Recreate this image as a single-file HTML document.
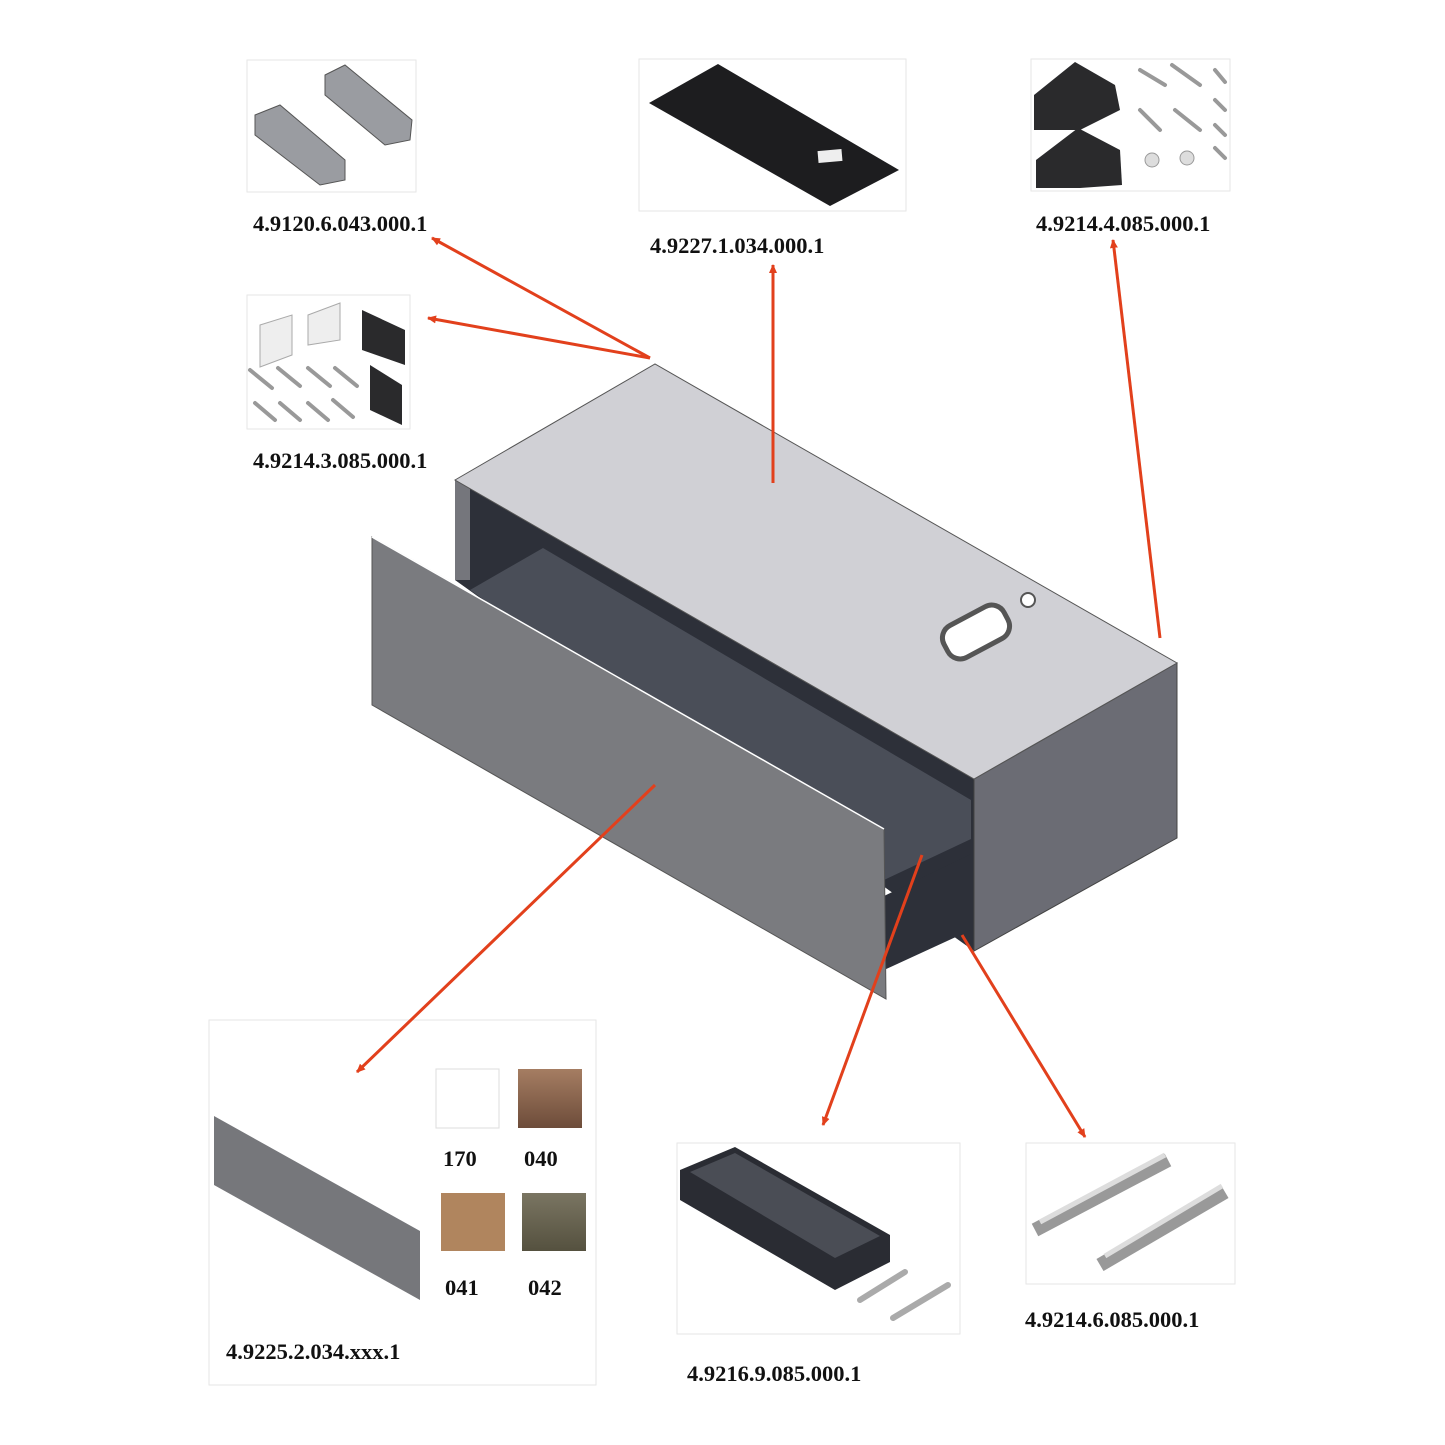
<!DOCTYPE html>
<html><head><meta charset="utf-8"><style>
html,body{margin:0;padding:0;background:#fff;}
svg{display:block}
text{font-family:"Liberation Serif",serif;font-weight:bold;font-size:22.5px;fill:#111}
</style></head><body>
<svg width="1445" height="1445" viewBox="0 0 1445 1445" xmlns="http://www.w3.org/2000/svg">
<defs>
<marker id="ah" markerWidth="10" markerHeight="10" refX="8" refY="5" orient="auto" markerUnits="userSpaceOnUse">
<path d="M0,1 L9,5 L0,9 Z" fill="#e2401c"/></marker>
<linearGradient id="g40" x1="0" y1="0" x2="0" y2="1"><stop offset="0" stop-color="#a57d62"/><stop offset="1" stop-color="#6d4c3a"/></linearGradient>
<linearGradient id="g42" x1="0" y1="0" x2="0" y2="1"><stop offset="0" stop-color="#7a7562"/><stop offset="1" stop-color="#55513f"/></linearGradient>
</defs>

<g fill="#fff" stroke="#e6e6e6" stroke-width="1">
<rect x="247" y="60" width="169" height="132"/>
<rect x="639" y="59" width="267" height="152"/>
<rect x="1031" y="59" width="199" height="132"/>
<rect x="247" y="295" width="163" height="134"/>
<rect x="209" y="1020" width="387" height="365"/>
<rect x="677" y="1143" width="283" height="191"/>
<rect x="1026" y="1143" width="209" height="141"/>
</g>

<g fill="#9a9ca1" stroke="#555" stroke-width="1">
<polygon points="255,115 280,105 345,160 345,180 320,185 255,135"/>
<polygon points="325,75 345,65 412,120 410,140 385,145 325,95"/>
</g>
<polygon points="649,103 718,64 899,170 830,206" fill="#1d1d1f"/>
<rect x="818" y="150" width="24" height="12" fill="#eee" transform="rotate(-5 830 156)"/>
<g fill="#2a2a2c">
<polygon points="1034,95 1075,62 1115,85 1120,110 1080,130 1034,130"/>
<polygon points="1036,160 1078,128 1120,150 1122,185 1080,188 1036,188"/>
</g>
<g stroke="#999" stroke-width="4" stroke-linecap="round">
<line x1="1140" y1="70" x2="1165" y2="85"/><line x1="1172" y1="65" x2="1200" y2="85"/>
<line x1="1215" y1="70" x2="1225" y2="82"/><line x1="1140" y1="110" x2="1160" y2="130"/>
<line x1="1175" y1="110" x2="1200" y2="130"/><line x1="1215" y1="100" x2="1225" y2="110"/>
<line x1="1215" y1="125" x2="1225" y2="135"/><line x1="1215" y1="148" x2="1225" y2="158"/>
</g>
<circle cx="1152" cy="160" r="7" fill="#ddd" stroke="#999"/><circle cx="1187" cy="158" r="7" fill="#ddd" stroke="#999"/>
<polygon points="260,325 292,315 292,355 260,367" fill="#eee" stroke="#aaa"/>
<polygon points="308,315 340,303 340,340 308,345" fill="#eee" stroke="#aaa"/>
<polygon points="362,310 405,330 405,365 362,350" fill="#2a2a2c"/>
<polygon points="370,365 402,385 402,425 370,410" fill="#2a2a2c"/>
<g stroke="#999" stroke-width="4" stroke-linecap="round">
<line x1="250" y1="370" x2="272" y2="388"/><line x1="278" y1="368" x2="300" y2="386"/>
<line x1="308" y1="368" x2="330" y2="386"/><line x1="335" y1="368" x2="357" y2="386"/>
<line x1="255" y1="403" x2="275" y2="420"/><line x1="280" y1="403" x2="300" y2="420"/>
<line x1="308" y1="403" x2="328" y2="420"/><line x1="333" y1="400" x2="353" y2="417"/>
</g>

<polygon points="214,1116 420,1231 420,1300 214,1185" fill="#76777b"/>
<rect x="436" y="1069" width="63" height="59" fill="#fff" stroke="#ddd"/>
<rect x="518" y="1069" width="64" height="59" fill="url(#g40)"/>
<rect x="441" y="1193" width="64" height="58" fill="#b0855e"/>
<rect x="522" y="1193" width="64" height="58" fill="url(#g42)"/>
<text x="443" y="1166">170</text><text x="524" y="1166">040</text>
<text x="445" y="1295">041</text><text x="528" y="1295">042</text>

<polygon points="680,1170 735,1147 890,1235 890,1262 835,1290 680,1200" fill="#2a2c33"/>
<polygon points="690,1172 735,1153 880,1236 835,1258" fill="#4a4d55"/>
<g stroke="#aaa" stroke-width="6" stroke-linecap="round">
<line x1="860" y1="1300" x2="905" y2="1272"/><line x1="893" y1="1318" x2="948" y2="1285"/>
</g>
<g stroke="#999" stroke-width="14">
<line x1="1035" y1="1230" x2="1168" y2="1160"/><line x1="1100" y1="1265" x2="1225" y2="1192"/>
</g>
<g stroke="#ddd" stroke-width="5"><line x1="1040" y1="1222" x2="1165" y2="1155"/><line x1="1105" y1="1256" x2="1222" y2="1186"/></g>

<text x="253" y="231">4.9120.6.043.000.1</text>
<text x="650" y="253">4.9227.1.034.000.1</text>
<text x="1036" y="231">4.9214.4.085.000.1</text>
<text x="253" y="468">4.9214.3.085.000.1</text>
<text x="226" y="1359">4.9225.2.034.xxx.1</text>
<text x="687" y="1381">4.9216.9.085.000.1</text>
<text x="1025" y="1327">4.9214.6.085.000.1</text>

<polygon points="455,480 974,779 974,951 455,580" fill="#2d3039"/>
<polygon points="455,480 470,488 470,580 455,580" fill="#75767c"/>
<polygon points="470,590 543,548 971,800 971,839 884,880" fill="#4a4e58"/>
<polygon points="884,896 971,854 971,930 884,970" fill="#2d3039"/>
<polygon points="974,779 1177,663 1177,838 974,951" fill="#6b6c74" stroke="#444" stroke-width="1"/>
<polygon points="455,480 655,364 1177,663 974,779" fill="#d0d0d5" stroke="#555" stroke-width="1"/>
<g transform="translate(976,632) rotate(-28)">
<rect x="-34" y="-18" width="68" height="36" rx="14" fill="#fff" stroke="#555" stroke-width="5"/>
</g>
<circle cx="1028" cy="600" r="7" fill="#fff" stroke="#555" stroke-width="2"/>
<polygon points="372,537 884,829 886,999 372,705" fill="#7a7b7f" stroke="#555" stroke-width="1"/>
<line x1="372" y1="537" x2="884" y2="829" stroke="#fff" stroke-width="1.5"/>

<g stroke="#e2401c" stroke-width="3" fill="none" marker-end="url(#ah)">
<line x1="650" y1="358" x2="432" y2="238"/>
<line x1="650" y1="358" x2="428" y2="318"/>
<line x1="773" y1="483" x2="773" y2="265"/>
<line x1="1160" y1="638" x2="1113" y2="240"/>
<line x1="655" y1="785" x2="357" y2="1072"/>
<line x1="922" y1="855" x2="823" y2="1125"/>
<line x1="962" y1="935" x2="1085" y2="1137"/>
</g>
</svg>
</body></html>
